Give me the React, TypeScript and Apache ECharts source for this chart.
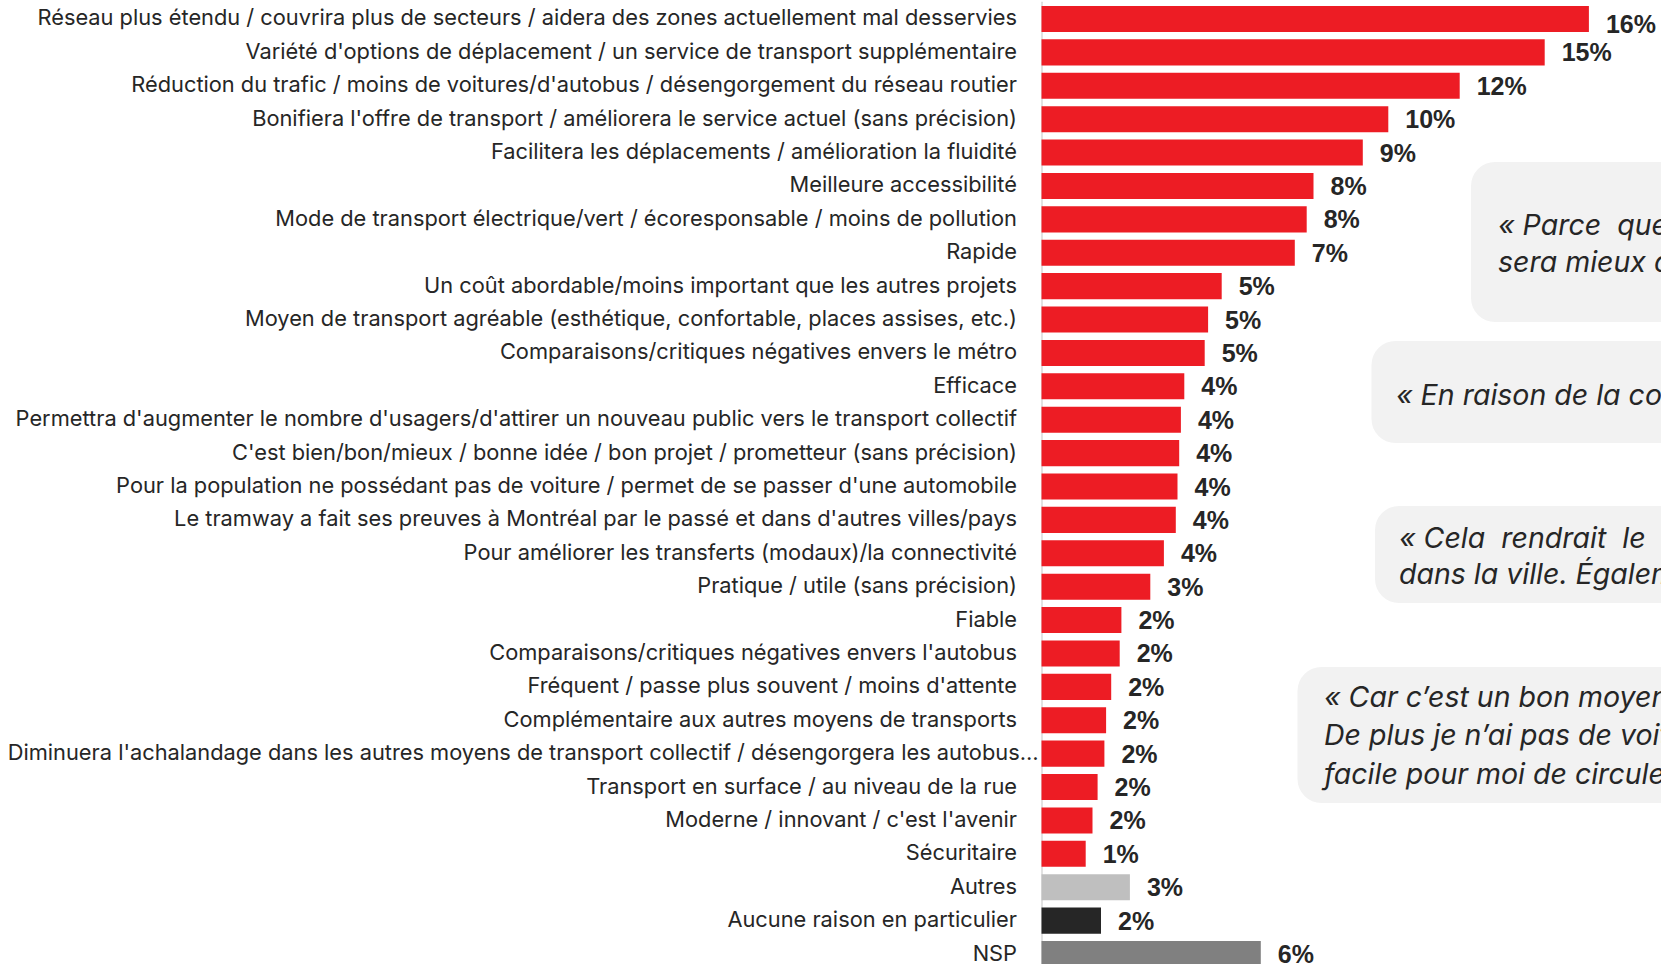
import React, { useEffect, useRef } from "react";
import * as echarts from "echarts";

const categories: string[] = [
  "Réseau plus étendu / couvrira plus de secteurs / aidera des zones actuellement mal desservies",
  "Variété d'options de déplacement / un service de transport supplémentaire",
  "Réduction du trafic / moins de voitures/d'autobus / désengorgement du réseau routier",
  "Bonifiera l'offre de transport / améliorera le service actuel (sans précision)",
  "Facilitera les déplacements / amélioration la fluidité",
  "Meilleure accessibilité",
  "Mode de transport électrique/vert / écoresponsable / moins de pollution",
  "Rapide",
  "Un coût abordable/moins important que les autres projets",
  "Moyen de transport agréable (esthétique, confortable, places assises, etc.)",
  "Comparaisons/critiques négatives envers le métro",
  "Efficace",
  "Permettra d'augmenter le nombre d'usagers/d'attirer un nouveau public vers le transport collectif",
  "C'est bien/bon/mieux / bonne idée / bon projet / prometteur (sans précision)",
  "Pour la population ne possédant pas de voiture / permet de se passer d'une automobile",
  "Le tramway a fait ses preuves à Montréal par le passé et dans d'autres villes/pays",
  "Pour améliorer les transferts (modaux)/la connectivité",
  "Pratique / utile (sans précision)",
  "Fiable",
  "Comparaisons/critiques négatives envers l'autobus",
  "Fréquent / passe plus souvent / moins d'attente",
  "Complémentaire aux autres moyens de transports",
  "Diminuera l'achalandage dans les autres moyens de transport collectif / désengorgera les autobus…",
  "Transport en surface / au niveau de la rue",
  "Moderne / innovant / c'est l'avenir",
  "Sécuritaire",
  "Autres",
  "Aucune raison en particulier",
  "NSP",
];

const values: number[] = [
  16.1, 14.8, 12.3, 10.2, 9.45, 8.0, 7.8, 7.45, 5.3, 4.9,
  4.8, 4.2, 4.1, 4.05, 4.0, 3.95, 3.6, 3.2, 2.35, 2.3,
  2.05, 1.9, 1.85, 1.65, 1.5, 1.3, 2.6, 1.75, 6.45,
];

const groups: string[] = [
  ...Array(26).fill("raison"),
  "autres",
  "aucune",
  "nsp",
];

const quoteLines: string[][] = [
  ["« Parce  que  le", "sera mieux desservi"],
  ["« En raison de la congestion"],
  ["« Cela  rendrait  le", "dans la ville. Également"],
  ["« Car c’est un bon moyen", "De plus je n’ai pas de voiture", "facile pour moi de circuler"],
];

export default function App() {
  const ref = useRef<HTMLDivElement>(null);

  useEffect(() => {
    const chart = echarts.init(ref.current!, null, { renderer: "svg" });
    const groupColor: Record<string, string> = {
      raison: "#ED1C24",
      autres: "#BFBFBF",
      aucune: "#262626",
      nsp: "#808080",
    };
    const longLabel = categories[22];
    const labelFont = "Inter, sans-serif";
    const labelSize = 21.8;

    const boxes = [
      { x: 1471, y: 162, w: 260, h: 160, tx: 1498, ty: [224, 261] },
      { x: 1371.5, y: 341, w: 360, h: 102, tx: 1396, ty: [394] },
      { x: 1375, y: 506, w: 360, h: 97, tx: 1399, ty: [537, 573.5] },
      { x: 1297.5, y: 667, w: 440, h: 136, tx: 1324, ty: [696, 734.5, 773] },
    ];

    const graphic: any[] = [];
    boxes.forEach((b, i) => {
      graphic.push({
        type: "rect",
        shape: { x: b.x, y: b.y, width: b.w, height: b.h, r: 24 },
        style: { fill: "#F2F2F2" },
        z: 1,
      });
      quoteLines[i].forEach((line, j) => {
        graphic.push({
          type: "text",
          x: b.tx,
          y: b.ty[j],
          style: {
            text: line.replace(/  /g, "\u00a0 "),
            fontSize: 28.5,
            fontStyle: "italic",
            fontFamily: "Inter, 'Open Sans', sans-serif",
            fill: "#262626",
            verticalAlign: "middle",
            align: "left",
          },
          z: 2,
        });
      });
    });

    chart.setOption({
      animation: false,
      backgroundColor: "#ffffff",
      grid: { left: 1041.5, top: 2.3, width: 612, height: 968.4 },
      xAxis: {
        type: "value",
        min: 0,
        max: 18,
        show: false,
      },
      yAxis: {
        type: "category",
        inverse: true,
        data: categories,
        axisTick: { show: false },
        axisLine: { show: true, lineStyle: { color: "#D9D9D9", width: 1.5 } },
        axisLabel: {
          margin: 3,
          color: "#262626",
          fontSize: labelSize,
          fontFamily: labelFont,
          formatter: (v: string) => (v === longLabel ? `{w|${v}}` : `{n|${v}}`),
          rich: {
            n: { padding: [0, 21.5, 3, 0], fontSize: labelSize, fontFamily: labelFont, color: "#262626" },
            w: { padding: [0, 0, 3, 0], fontSize: labelSize, fontFamily: labelFont, color: "#262626" },
          },
        },
      },
      series: [
        {
          type: "bar",
          barCategoryGap: "22%",
          data: values.map((v, i) => {
            const item: any = { value: v, itemStyle: { color: groupColor[groups[i]] } };
            if (i === 0) item.label = { offset: [0, 5] };
            return item;
          }),
          label: {
            show: true,
            position: "right",
            distance: 17,
            fontSize: 25,
            fontWeight: "bold",
            fontFamily: "'Liberation Sans', Arial, sans-serif",
            color: "#262626",
            formatter: (p: any) => `${Math.round(p.value)}%`,
          },
        },
      ],
      graphic,
    });

    return () => chart.dispose();
  }, []);

  return (
    <div
      ref={ref}
      style={{ position: "fixed", left: 0, top: 0, width: 1661, height: 975, background: "#fff" }}
    />
  );
}
